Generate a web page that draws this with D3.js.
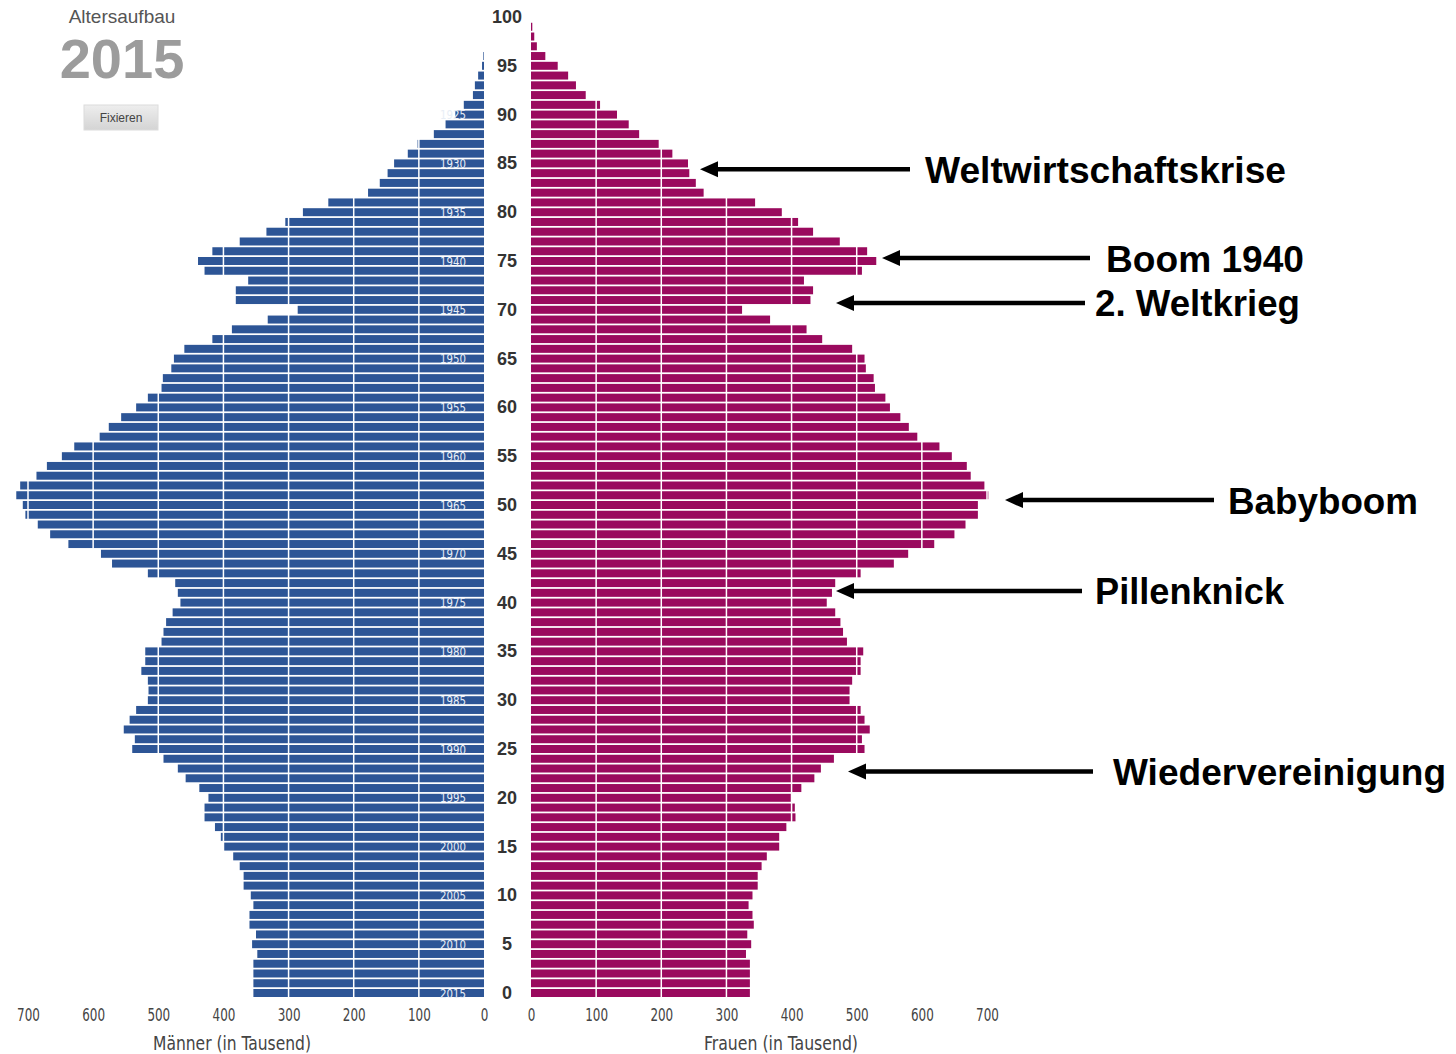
<!DOCTYPE html>
<html>
<head>
<meta charset="utf-8">
<script src="https://cdn.jsdelivr.net/npm/d3@7"></script>
<style>
  body { margin: 0; background: #fff; }
  svg { display: block; }
  .narrow { font-family: "Liberation Sans Narrow", "Arial Narrow", "DejaVu Sans Condensed", sans-serif; }
</style>
</head>
<body>
<svg id="chart" width="1456" height="1054"></svg>
<script>
// Altersaufbau Deutschland 2015, Werte in Tausend, Index = Alter 0..100
var ages = d3.range(0, 101);

var maenner = [
  354, 354, 354, 354, 348, 356, 350, 360, 360, 354,
  358, 369, 369, 375, 385, 399, 404, 413, 429, 429,
  423, 437, 458, 470, 492, 540, 536, 553, 544, 534,
  516, 515, 516, 526, 520, 520, 495, 492, 488, 478,
  466, 470, 474, 516, 571, 588, 638, 666, 685, 704,
  708, 718, 712, 687, 671, 648, 629, 590, 576, 557,
  534, 516, 495, 493, 480, 476, 460, 417, 387, 332,
  286, 381, 381, 362, 429, 439, 417, 375, 334, 305,
  278, 239, 178, 160, 148, 138, 117, 102, 77, 59,
  44, 31, 17, 14, 9, 3, 1, 0, 0, 0,
  0
];

var frauen = [
  336, 336, 336, 336, 330, 338, 332, 342, 340, 334,
  340, 348, 348, 354, 362, 381, 381, 392, 406, 405,
  399, 415, 435, 445, 465, 512, 508, 520, 512, 506,
  489, 489, 493, 506, 506, 510, 485, 479, 475, 467,
  454, 462, 467, 506, 557, 579, 619, 650, 667, 686,
  686, 702, 696, 675, 669, 646, 627, 593, 580, 567,
  551, 544, 528, 526, 514, 512, 493, 447, 423, 367,
  324, 429, 433, 419, 508, 530, 516, 474, 433, 410,
  385, 344, 265, 253, 243, 241, 217, 196, 166, 150,
  132, 106, 84, 69, 57, 41, 22, 9, 5, 2,
  0
];

var ageTicks = d3.range(0, 101, 5);
var valueTicks = [0, 100, 200, 300, 400, 500, 600, 700];
var yearLabels = d3.range(0, 91, 5); // Alter, Geburtsjahr = 2015 - Alter

var notes = ["Weltwirtschaftskrise", "Boom 1940", "2. Weltkrieg", "Babyboom", "Pillenknick", "Wiedervereinigung"];
var noteAges = [84.4, 75.3, 70.7, 50.5, 41.2, 22.7];

var blue = "#2d5596", purple = "#9a0a5e";

var svg = d3.select("#chart");

var xL = d3.scaleLinear().domain([0, 700]).range([484, 28]);
var xR = d3.scaleLinear().domain([0, 700]).range([531, 987]);
var y = d3.scaleLinear().domain([0, 100]).range([993, 17]);
var barH = 8;

// Maenner
svg.append("g").selectAll("rect")
  .data(ages)
  .enter().append("rect")
  .attr("x", function(d) { return xL(maenner[d]); })
  .attr("y", function(d) { return y(d) - barH / 2; })
  .attr("width", function(d) { return xL(0) - xL(maenner[d]); })
  .attr("height", barH)
  .attr("fill", blue);

// Frauen
svg.append("g").selectAll("rect")
  .data(ages)
  .enter().append("rect")
  .attr("x", xR(0))
  .attr("y", function(d) { return y(d) - barH / 2; })
  .attr("width", function(d) { return xR(frauen[d]) - xR(0); })
  .attr("height", barH)
  .attr("fill", purple);

// weisse Gitterlinien
var grid = valueTicks.filter(function(v) { return v > 0; });
svg.append("g").selectAll("line")
  .data(grid)
  .enter().append("line")
  .attr("x1", function(d) { return xL(d); })
  .attr("x2", function(d) { return xL(d); })
  .attr("y1", y(100)).attr("y2", y(0) + 6)
  .attr("stroke", "#fff").attr("stroke-width", 1.5);
svg.append("g").selectAll("line")
  .data(grid)
  .enter().append("line")
  .attr("x1", function(d) { return xR(d); })
  .attr("x2", function(d) { return xR(d); })
  .attr("y1", y(100)).attr("y2", y(0) + 6)
  .attr("stroke", "#fff").attr("stroke-width", 1.5);

// Geburtsjahre in den Balken
svg.append("g").selectAll("text")
  .data(yearLabels)
  .enter().append("text")
  .attr("class", "narrow")
  .attr("x", 466)
  .attr("y", function(d) { return y(d) + 4.5; })
  .attr("text-anchor", "end")
  .attr("font-size", 13)
  .attr("fill", "#e8eef6")
  .attr("textLength", 26)
  .attr("lengthAdjust", "spacingAndGlyphs")
  .text(function(d) { return 2015 - d; });

// Altersachse in der Mitte
svg.append("g").selectAll("text")
  .data(ageTicks)
  .enter().append("text")
  .attr("x", 507)
  .attr("y", function(d) { return y(d) + 6; })
  .attr("text-anchor", "middle")
  .attr("font-family", "Liberation Sans, Arial, sans-serif")
  .attr("font-weight", "bold")
  .attr("font-size", 18)
  .attr("fill", "#333")
  .text(function(d) { return d; });

// x-Achsen
var axL = svg.append("g")
  .attr("transform", "translate(0,1009)")
  .call(d3.axisBottom(xL).tickValues(valueTicks).tickSize(0).tickPadding(0));
var axR = svg.append("g")
  .attr("transform", "translate(0,1009)")
  .call(d3.axisBottom(xR).tickValues(valueTicks).tickSize(0).tickPadding(0));
[axL, axR].forEach(function(ax) {
  ax.select(".domain").remove();
  ax.selectAll("text")
    .attr("class", "narrow")
    .attr("font-size", 17)
    .attr("fill", "#444")
    .attr("dy", "0.71em")
    .attr("y", 0)
    .attr("textLength", function(d) { return String(d).length * 7.6; })
    .attr("lengthAdjust", "spacingAndGlyphs");
  ax.attr("font-family", null);
});

svg.append("text").attr("class", "narrow")
  .attr("x", 232).attr("y", 1050)
  .attr("text-anchor", "middle").attr("font-size", 19).attr("fill", "#444")
  .attr("textLength", 158).attr("lengthAdjust", "spacingAndGlyphs")
  .text("Männer (in Tausend)");
svg.append("text").attr("class", "narrow")
  .attr("x", 781).attr("y", 1050)
  .attr("text-anchor", "middle").attr("font-size", 19).attr("fill", "#444")
  .attr("textLength", 154).attr("lengthAdjust", "spacingAndGlyphs")
  .text("Frauen (in Tausend)");

// Titel oben links
svg.append("text")
  .attr("x", 122).attr("y", 23)
  .attr("text-anchor", "middle")
  .attr("font-family", "Liberation Sans, Arial, sans-serif")
  .attr("font-size", 19).attr("fill", "#555")
  .text("Altersaufbau");
svg.append("text")
  .attr("x", 122).attr("y", 78)
  .attr("text-anchor", "middle")
  .attr("font-family", "Liberation Sans, Arial, sans-serif")
  .attr("font-weight", "bold")
  .attr("font-size", 56).attr("fill", "#9c9c9c")
  .text("2015");

var defs = svg.append("defs");
var grad = defs.append("linearGradient").attr("id", "btn").attr("x1", 0).attr("x2", 0).attr("y1", 0).attr("y2", 1);
grad.append("stop").attr("offset", "0%").attr("stop-color", "#eeeeee");
grad.append("stop").attr("offset", "100%").attr("stop-color", "#d4d4d4");
svg.append("rect")
  .attr("x", 84).attr("y", 105).attr("width", 74).attr("height", 25)
  .attr("fill", "url(#btn)").attr("stroke", "#dcdcdc");
svg.append("text")
  .attr("x", 121).attr("y", 122)
  .attr("text-anchor", "middle")
  .attr("font-family", "Liberation Sans, Arial, sans-serif")
  .attr("font-size", 12).attr("fill", "#444")
  .text("Fixieren");

// Anmerkungen mit Pfeilen
var noteLayout = [
  {tip: 700, tail: 910, tx: 925, w: 361},
  {tip: 882, tail: 1090, tx: 1106, w: 198},
  {tip: 836, tail: 1085, tx: 1095, w: 205},
  {tip: 1005, tail: 1214, tx: 1228, w: 190},
  {tip: 836, tail: 1082, tx: 1095, w: 189},
  {tip: 848, tail: 1093, tx: 1113, w: 333}
];

var ng = svg.append("g").selectAll("g")
  .data(notes)
  .enter().append("g");

ng.append("line")
  .attr("x1", function(d, i) { return noteLayout[i].tip + 14; })
  .attr("x2", function(d, i) { return noteLayout[i].tail; })
  .attr("y1", function(d, i) { return y(noteAges[i]); })
  .attr("y2", function(d, i) { return y(noteAges[i]); })
  .attr("stroke", "#000").attr("stroke-width", 4.5);

ng.append("path")
  .attr("d", function(d, i) {
    var t = noteLayout[i].tip, yy = y(noteAges[i]);
    return "M" + t + "," + yy + "L" + (t + 18) + "," + (yy - 8) + "L" + (t + 18) + "," + (yy + 8) + "Z";
  })
  .attr("fill", "#000");

ng.append("text")
  .attr("x", function(d, i) { return noteLayout[i].tx; })
  .attr("y", function(d, i) { return y(noteAges[i]) + 13.5; })
  .attr("font-family", "Liberation Sans, Arial, sans-serif")
  .attr("font-weight", "bold")
  .attr("font-size", 37)
  .attr("fill", "#000")
  .attr("textLength", function(d, i) { return noteLayout[i].w; })
  .attr("lengthAdjust", "spacingAndGlyphs")
  .text(function(d) { return d; });
</script>
</body>
</html>
